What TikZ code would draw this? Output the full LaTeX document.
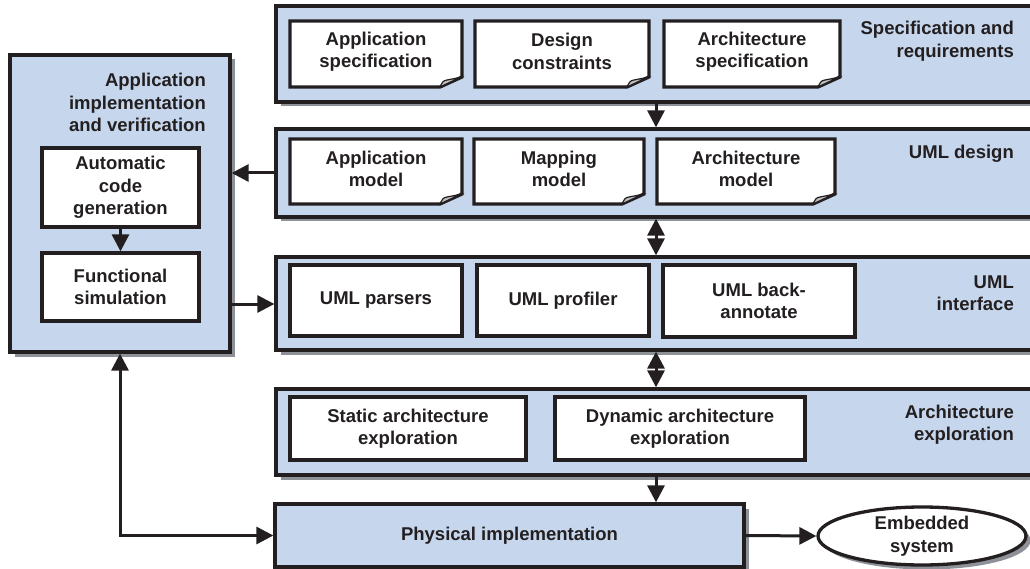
\documentclass[tikz,border=0pt]{standalone}
\usepackage{fontspec}
\setmainfont{Liberation Sans}
\usetikzlibrary{arrows.meta,shadows,shapes.geometric}
\definecolor{boxblue}{HTML}{C6D6EC}
\definecolor{ink}{HTML}{231F20}
\definecolor{shade}{HTML}{8E9298}
\newcommand\docbox[6]{%
  \draw[docframe] (#2,#3) -- (#4,#3) -- (#4,{#5-10}) -- ({#4-22},#5) -- (#2,#5) -- cycle;
  \filldraw[line width=1.2pt, draw=ink, fill=black!25] ({#4-22},#5) .. controls ({#4-19},{#5-6}) .. ({#4-15},{#5-7}) -- ({#4-2},{#5-9.5}) -- cycle;
  \node[txt] (#1) at ({(#2+#4)/2},{(#3+#5)/2-2.5}) {#6};
}
\begin{document}
\begin{tikzpicture}[x=1pt,y=-1pt,
  font=\fontsize{18.5}{22.5}\selectfont\bfseries, text=ink,
  >={Triangle[length=17pt,width=17pt]},
  outer/.style={draw=ink, fill=boxblue, line width=3.3pt, inner sep=0pt,
    drop shadow={shadow xshift=4.5pt, shadow yshift=-4.5pt, fill=shade, opacity=1}},
  inbox/.style={draw=ink, fill=white, line width=3.3pt, align=center, inner sep=0pt},
  docframe/.style={draw=ink, fill=white, line width=3.3pt, line join=miter},
  txt/.style={align=center, inner sep=0pt},
  title/.style={align=right, anchor=east, inner sep=0pt},
  conn/.style={draw=ink, line width=3pt}]
\useasboundingbox (0,0) rectangle (1030,569);
\clip (0,0) rectangle (1030,569);
\fill[white] (0,0) rectangle (1030,569);

% outer boxes
\node[outer, minimum width=764, minimum height=96] (spec) at (658,54) {};
\node[outer, minimum width=764, minimum height=88] (umld) at (658,173) {};
\node[outer, minimum width=764, minimum height=93] (umli) at (658,303.5) {};
\node[outer, minimum width=764, minimum height=86] (arch) at (658,432) {};
\node[outer, minimum width=469, minimum height=63] (phys) at (509.5,535.5) {Physical implementation};
\node[outer, minimum width=220, minimum height=297] (impl) at (120,203.5) {};
\node[outer, ellipse, fill=white, minimum width=208, minimum height=58, inner sep=0pt, align=center] (emb) at (922,536) {Embedded\\system};

% titles
\node[title] (specT) at (1014,41) {Specification and\\requirements};
\node[title] (umldT) at (1014,154) {UML design};
\node[title] (umliT) at (1014,293) {UML\\interface};
\node[title] (archT) at (1014,424.5) {Architecture\\exploration};
\node[title] (implT) at (206,102.5) {Application\\implementation\\and verification};

% document boxes
\docbox{aspec}{290}{21}{462}{87}{Application\\specification}
\docbox{dcons}{475}{21}{649}{87}{Design\\constraints}
\docbox{arspec}{664}{21}{840}{87}{Architecture\\specification}
\docbox{amod}{290}{139}{462}{204}{Application\\model}
\docbox{mmod}{474}{139}{644}{204}{Mapping\\model}
\docbox{armod}{657}{139}{835}{204}{Architecture\\model}

% plain inner boxes
\node[inbox, minimum width=172, minimum height=71] (pars) at (376,300.5) {UML parsers};
\node[inbox, minimum width=172, minimum height=71] (prof) at (563,300.5) {UML profiler};
\node[inbox, minimum width=192, minimum height=72] (back) at (759,301) {UML back-\\annotate};
\node[inbox, minimum width=236, minimum height=63] (stat) at (408,428.5) {Static architecture\\exploration};
\node[inbox, minimum width=250, minimum height=63] (dyn) at (680,428.5) {Dynamic architecture\\exploration};
\node[inbox, minimum width=157, minimum height=79] (acg) at (120.5,187.5) {Automatic\\code\\generation};
\node[inbox, minimum width=157, minimum height=68] (fsim) at (120.5,287) {Functional\\simulation};

% connectors
\coordinate (ax) at (656,0);
\coordinate (ya) at (0,173);
\coordinate (yb) at (0,304);
\draw[conn,->] (spec.south -| ax) -- (umld.north -| ax);
\draw[conn,<->] (umld.south -| ax) -- (umli.north -| ax);
\draw[conn,<->] (umli.south -| ax) -- (arch.north -| ax);
\draw[conn,->] (arch.south -| ax) -- (phys.north -| ax);
\draw[conn,->] (umld.west |- ya) -- (impl.east |- ya);
\draw[conn,->] (impl.east |- yb) -- (umli.west |- yb);
\draw[conn,->] (acg) -- (fsim);
\draw[conn,<->] (impl.south) |- (phys.west);
\draw[conn,->] (phys.east) -- (emb.west);
\end{tikzpicture}
\end{document}
